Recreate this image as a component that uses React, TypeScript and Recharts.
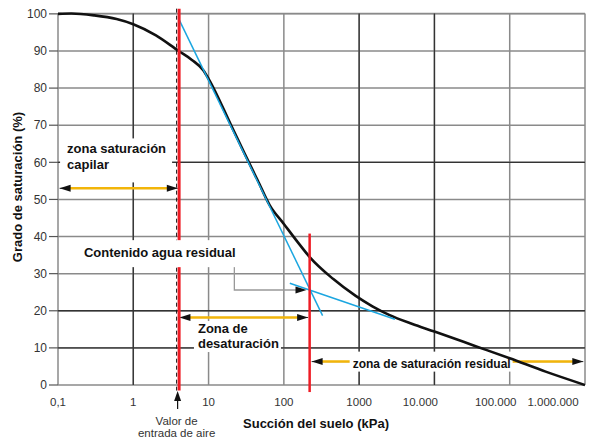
import {
  LineChart,
  Line,
  XAxis,
  YAxis,
  CartesianGrid,
  ReferenceLine,
  ReferenceDot,
  Customized,
} from "recharts";

// Soil-water characteristic curve: degree of saturation vs suction (log scale)
const suction = [
  0.1, 0.15, 0.3, 0.6, 1, 2, 4, 6, 8.5, 10, 20, 30, 45, 65, 100, 150, 222, 450,
  900, 1500, 2500, 5000, 10000, 36000, 100000, 300000, 1000000,
];
const saturation = [
  100, 100.1, 99.6, 98.6, 97.2, 94.2, 90, 87.6, 84.8, 82.5, 69.9, 62.4, 55.1,
  48.4, 43.4, 38.7, 34.4, 28.6, 24, 21.2, 18.9, 16.5, 14.4, 10.4, 7.2, 3.6, 0,
];

const suctionTicks = [0.1, 1, 10, 100, 1000, 10000, 100000, 1000000];
const suctionTickLabels = [
  "0,1",
  "1",
  "10",
  "100",
  "1000",
  "10.000",
  "100.000",
  "1.000.000",
];
const saturationTicks = [0, 10, 20, 30, 40, 50, 60, 70, 80, 90, 100];

// grid lines that print darker than the rest
const darkGridX = [1, 1000, 10000];
const darkGridY = [60, 20, 10];

const airEntrySuction = 4;
const residualSuction = 220;

// tangent construction lines (suction, saturation)
const steepTangentX = [4, 327];
const steepTangentY = [98.7, 18.7];
const flatTangentX = [120, 2990];
const flatTangentY = [27.4, 17.7];

const data = suction.map((s, i) => ({ suction: s, saturation: saturation[i] }));

const FONT = '"Liberation Sans", Arial, sans-serif';
const RED = "#ee1c25";
const BLUE = "#1ba6e0";
const ORANGE = "#f2b50a";
const GRID = "#8a8a8a";

function arrowHead(x: number, y: number, dir: number) {
  const h = 11;
  const w = 3.5;
  return (
    <polygon
      points={`${x},${y} ${x - dir * h},${y - w} ${x - dir * h},${y + w}`}
      fill="#111"
    />
  );
}

function DoubleArrow(props: any) {
  const { x1, y1, x2, y2 } = props;
  return (
    <g>
      <line x1={x1} y1={y1} x2={x2} y2={y2} stroke="#333" strokeWidth={1} />
      <line
        x1={x1 + 10}
        y1={y1}
        x2={x2 - 10}
        y2={y2}
        stroke={ORANGE}
        strokeWidth={2.5}
      />
      {arrowHead(x1, y1, -1)}
      {arrowHead(x2, y2, 1)}
    </g>
  );
}

function ResidualArrow(props: any) {
  const { x1, y1 } = props;
  return (
    <g>
      <DoubleArrow {...props} />
      <rect x={x1 + 38} y={y1 - 10} width={163} height={20} fill="#fff" />
      <text
        x={x1 + 41}
        y={y1 + 6}
        fontFamily={FONT}
        fontSize={12}
        fontWeight="bold"
        fill="#111"
      >
        zona de saturación residual
      </text>
    </g>
  );
}

function AirEntryLine(props: any) {
  const { x1, y1, x2, y2 } = props;
  return (
    <g>
      <line
        x1={x1 - 2}
        y1={y1}
        x2={x2 - 2}
        y2={y2}
        stroke="#111"
        strokeWidth={1}
        strokeDasharray="4 3"
      />
      <line x1={x1 + 0.5} y1={y1} x2={x2 + 0.5} y2={y2} stroke={RED} strokeWidth={3} />
    </g>
  );
}

function ResidualLine(props: any) {
  const { x1, y1, x2, y2 } = props;
  return <line x1={x1} y1={y1} x2={x2} y2={y2} stroke={RED} strokeWidth={2.5} />;
}

function Connector(props: any) {
  const { x1, y1, x2, y2 } = props;
  return (
    <g>
      <polyline
        points={`${x1},${y1 - 23} ${x1},${y1} ${x2 - 9},${y2}`}
        fill="none"
        stroke="#999"
        strokeWidth={1.3}
      />
      {arrowHead(x2, y2, 1)}
    </g>
  );
}

function TextBlock({
  cx,
  cy,
  lines,
  box,
  gap = 16,
}: {
  cx: number;
  cy: number;
  lines: string[];
  box: [number, number, number, number];
  gap?: number;
}) {
  return (
    <g>
      <rect x={cx + box[0]} y={cy + box[1]} width={box[2]} height={box[3]} fill="#fff" />
      {lines.map((t, i) => (
        <text
          key={t}
          x={cx}
          y={cy + i * gap}
          fontFamily={FONT}
          fontSize={13}
          fontWeight="bold"
          fill="#111"
        >
          {t}
        </text>
      ))}
    </g>
  );
}

function AirEntryNote(props: any) {
  const { cx, cy } = props;
  return (
    <g fontFamily={FONT} fontSize={11.5} fill="#333" textAnchor="middle">
      <line x1={cx - 1} y1={cy + 24} x2={cx - 1} y2={cy + 14} stroke="#111" strokeWidth={1.2} />
      <polygon
        points={`${cx - 1},${cy + 6} ${cx - 4.5},${cy + 16} ${cx + 2.5},${cy + 16}`}
        fill="#111"
      />
      <text x={cx - 2} y={cy + 40}>
        Valor de
      </text>
      <text x={cx - 2} y={cy + 52}>
        entrada de aire
      </text>
    </g>
  );
}

function SuctionTick(props: any) {
  const { x, y, payload } = props;
  const label = suctionTickLabels[suctionTicks.indexOf(payload.value)];
  const shift = label.includes(".") ? -14 : 0;
  return (
    <text
      x={x + shift}
      y={y + 19}
      textAnchor="middle"
      fontFamily={FONT}
      fontSize={11.5}
      fill="#333"
    >
      {label}
    </text>
  );
}

function AxisTitles() {
  return (
    <g fontFamily={FONT} fontSize={13} fontWeight="bold" fill="#111">
      <text x={316} y={428} textAnchor="middle">
        Succión del suelo (kPa)
      </text>
      <text x={22} y={187} textAnchor="middle" transform="rotate(-90 22 187)">
        Grado de saturación (%)
      </text>
    </g>
  );
}

export default function App() {
  return (
    <div style={{ position: "absolute", left: 0, top: 0, background: "#fff" }}>
      <LineChart
        width={595}
        height={442}
        data={data}
        margin={{ top: 13.5, right: 10, bottom: 0, left: 0 }}
      >
        <CartesianGrid stroke={GRID} strokeWidth={1.5} />
        <XAxis
          dataKey="suction"
          type="number"
          scale="log"
          domain={[0.1, 1000000]}
          ticks={suctionTicks}
          allowDataOverflow
          axisLine={false}
          tickLine={false}
          tickSize={0}
          tick={<SuctionTick />}
          height={57}
        />
        <YAxis
          type="number"
          domain={[0, 100]}
          ticks={saturationTicks}
          axisLine={false}
          tickSize={9}
          tickLine={{ stroke: "#555", strokeWidth: 1.2 }}
          tick={{ fontFamily: FONT, fontSize: 12, fill: "#333" }}
          width={58}
        />

        {darkGridX.map((v) => (
          <ReferenceLine key={`gx${v}`} x={v} stroke="#333" strokeWidth={1.3} />
        ))}
        {darkGridY.map((v) => (
          <ReferenceLine key={`gy${v}`} y={v} stroke="#333" strokeWidth={1.3} />
        ))}

        <ReferenceLine
          ifOverflow="visible"
          segment={[
            { x: 0.105, y: 53 },
            { x: 3.9, y: 53 },
          ]}
          shape={DoubleArrow}
        />
        <ReferenceLine
          ifOverflow="visible"
          segment={[
            { x: 4.1, y: 18.2 },
            { x: 210, y: 18.2 },
          ]}
          shape={DoubleArrow}
        />
        <ReferenceLine
          ifOverflow="visible"
          segment={[
            { x: 234, y: 6.3 },
            { x: 950000, y: 6.3 },
          ]}
          shape={ResidualArrow}
        />

        <ReferenceDot
          x={0.132}
          y={62.4}
          ifOverflow="visible"
          shape={(p: any) => (
            <TextBlock
              cx={p.cx}
              cy={p.cy}
              lines={["zona saturación", "capilar"]}
              box={[-7, -15, 112, 44]}
            />
          )}
        />
        <ReferenceDot
          x={0.221}
          y={34.45}
          ifOverflow="visible"
          shape={(p: any) => (
            <TextBlock
              cx={p.cx}
              cy={p.cy}
              lines={["Contenido agua residual"]}
              box={[-4, -17, 158, 27]}
            />
          )}
        />
        <ReferenceDot
          x={7.23}
          y={14}
          ifOverflow="visible"
          shape={(p: any) => (
            <TextBlock
              cx={p.cx}
              cy={p.cy}
              lines={["Zona de", "desaturación"]}
              box={[-4, -12, 87, 31]}
              gap={15}
            />
          )}
        />

        <Line
          type="monotone"
          dataKey="saturation"
          stroke="#111"
          strokeWidth={2.6}
          dot={false}
          activeDot={false}
          isAnimationActive={false}
        />

        <ReferenceLine
          ifOverflow="visible"
          segment={[
            { x: steepTangentX[0], y: steepTangentY[0] },
            { x: steepTangentX[1], y: steepTangentY[1] },
          ]}
          stroke={BLUE}
          strokeWidth={1.5}
        />
        <ReferenceLine
          ifOverflow="visible"
          segment={[
            { x: flatTangentX[0], y: flatTangentY[0] },
            { x: flatTangentX[1], y: flatTangentY[1] },
          ]}
          stroke={BLUE}
          strokeWidth={1.5}
        />

        <ReferenceLine
          ifOverflow="visible"
          segment={[
            { x: 22, y: 25.6 },
            { x: 200, y: 25.6 },
          ]}
          shape={Connector}
        />

        <ReferenceLine
          ifOverflow="visible"
          segment={[
            { x: airEntrySuction, y: 101.4 },
            { x: airEntrySuction, y: -1.5 },
          ]}
          shape={AirEntryLine}
        />
        <ReferenceLine
          ifOverflow="visible"
          segment={[
            { x: residualSuction, y: 40.8 },
            { x: residualSuction, y: -1.9 },
          ]}
          shape={ResidualLine}
        />
        <ReferenceDot
          x={airEntrySuction}
          y={0}
          ifOverflow="visible"
          shape={AirEntryNote}
        />

        <Customized component={AxisTitles} />
      </LineChart>
    </div>
  );
}
